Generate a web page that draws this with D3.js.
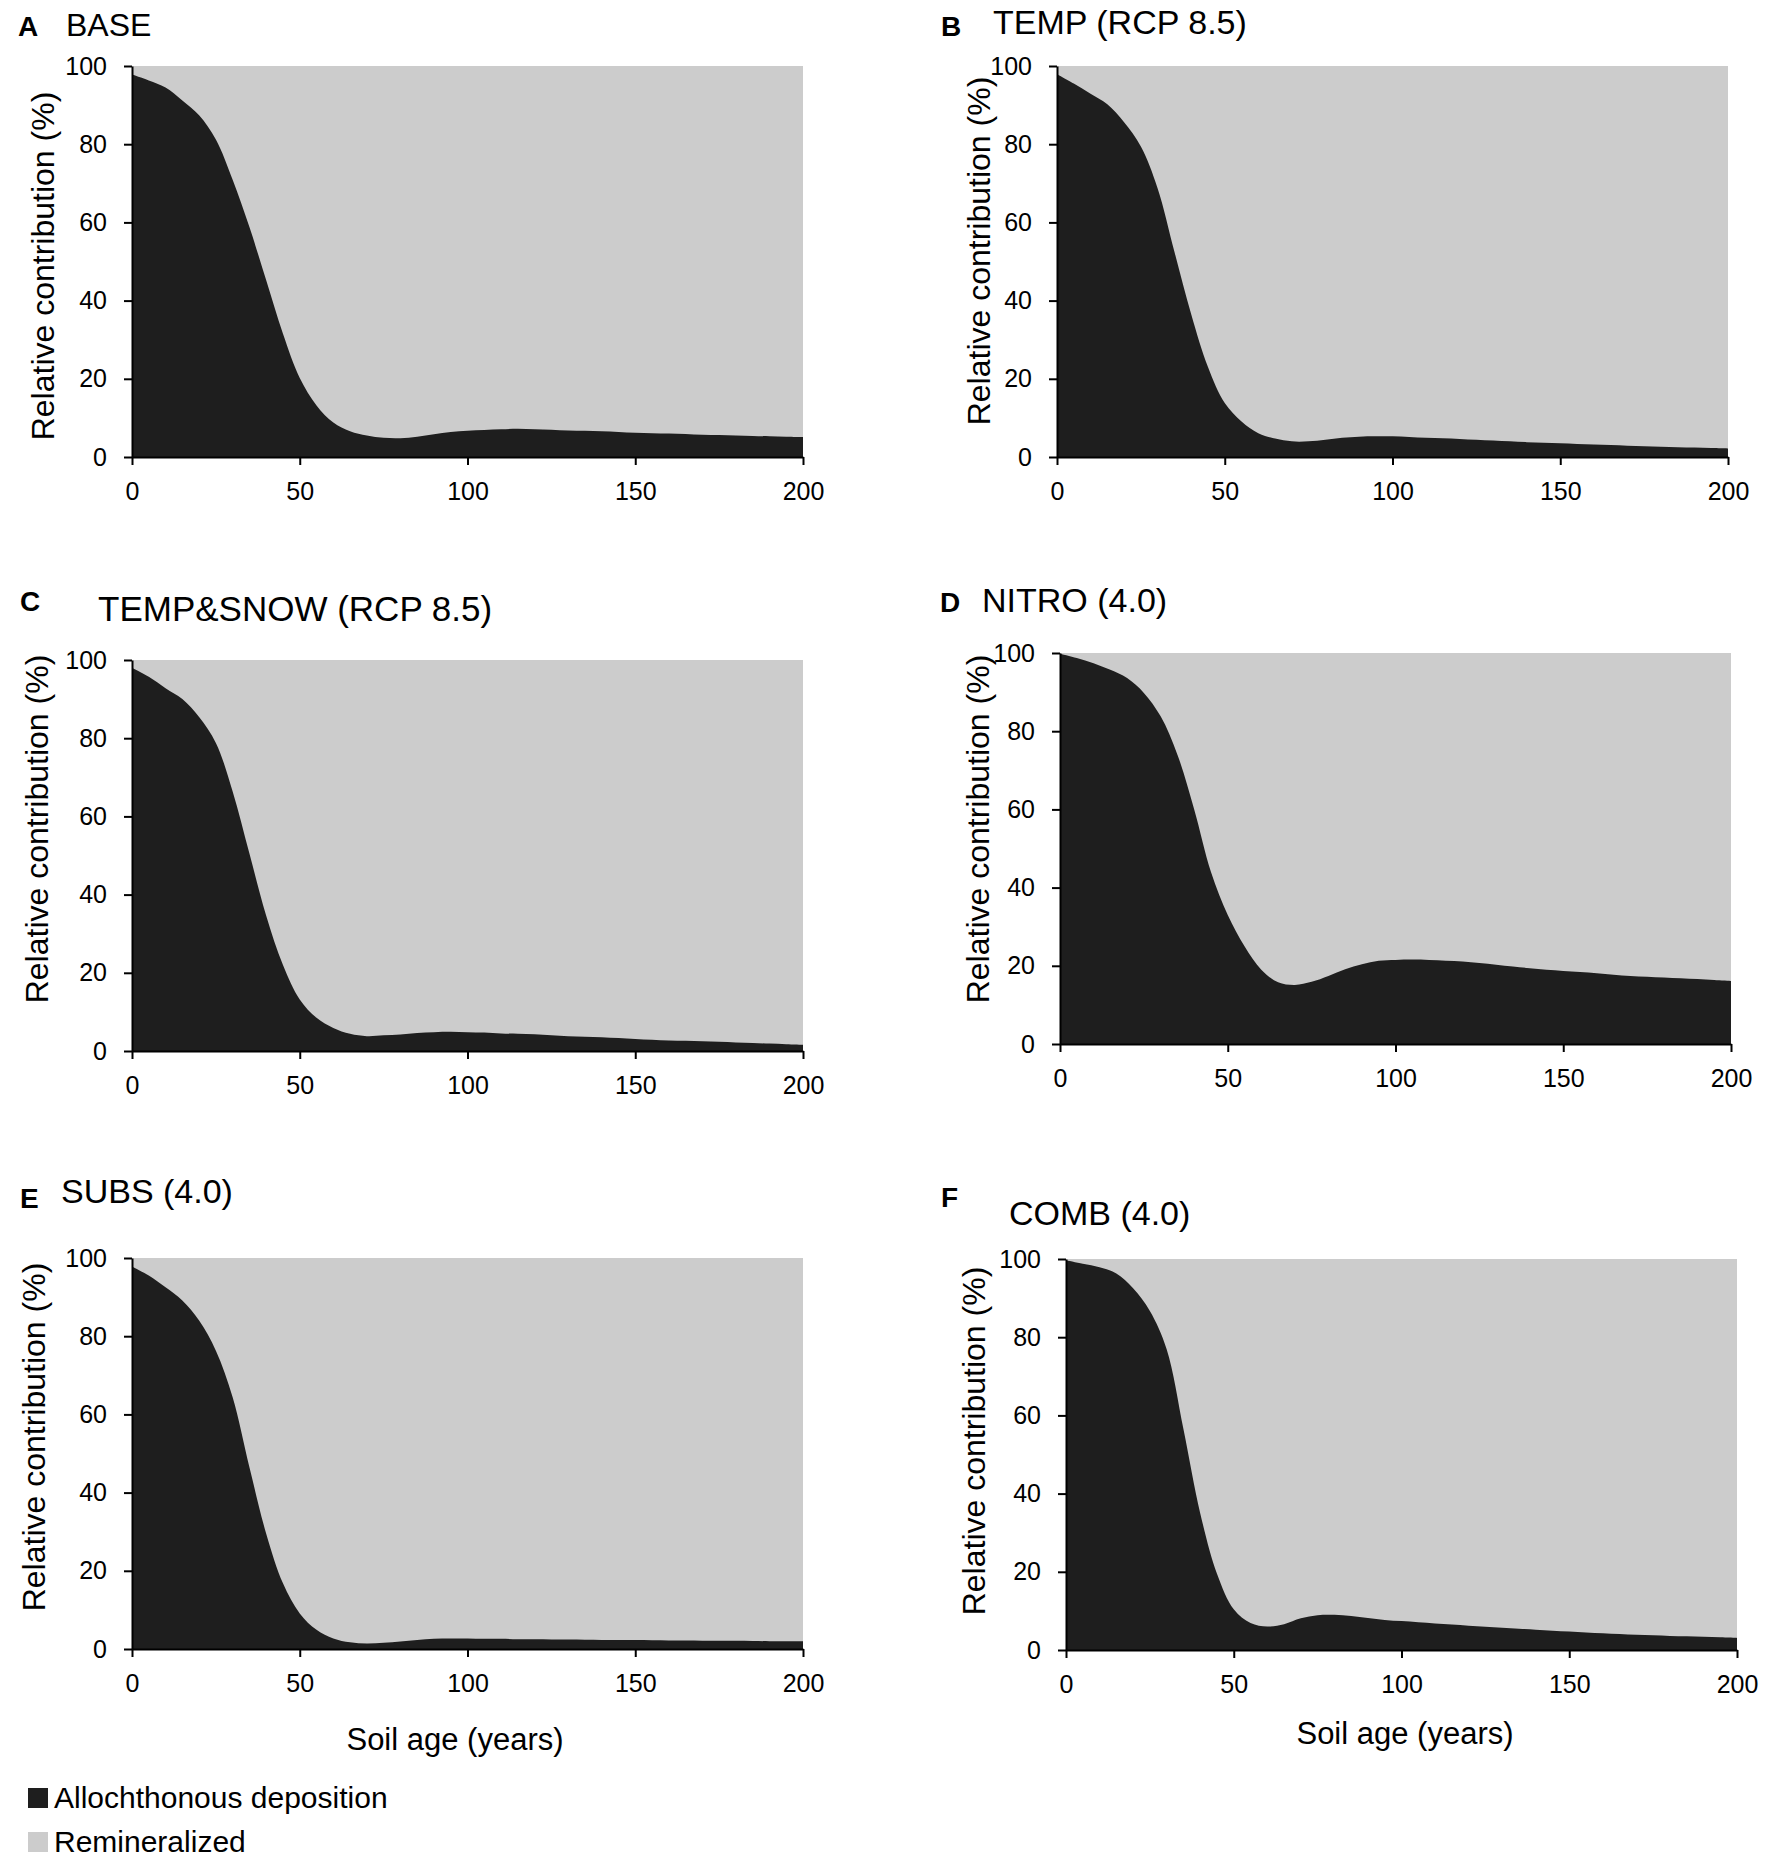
<!DOCTYPE html>
<html>
<head>
<meta charset="utf-8">
<script src="https://cdn.jsdelivr.net/npm/d3@7"></script>
<style>
  body { margin: 0; background: #fff; }
  svg { display: block; font-family: 'Liberation Sans', Arial, sans-serif; }
</style>
</head>
<body>
<svg id="chart"></svg>
<script>
// soil age (years), one reading every 5 years
const ages = d3.range(0, 201, 5)
const xTicks = [0, 50, 100, 150, 200]
const yTicks = [0, 20, 40, 60, 80, 100]

const panelLetters = ['A', 'B', 'C', 'D', 'E', 'F']
const panelTitles = ['BASE', 'TEMP (RCP 8.5)', 'TEMP&SNOW (RCP 8.5)', 'NITRO (4.0)', 'SUBS (4.0)', 'COMB (4.0)']

// allochthonous deposition share (%), the rest is remineralized
const base = [97.8, 96.3, 94.5, 91.2, 87.4, 81.2, 70.9, 58.8, 45.2, 31.5, 20.2, 13.2, 8.8, 6.6, 5.5, 4.9, 4.8, 5.2, 5.8, 6.4, 6.7,
  6.9, 7.1, 7.2, 7.1, 7.0, 6.8, 6.7, 6.6, 6.4, 6.2, 6.1, 6.0, 5.9, 5.7, 5.6, 5.5, 5.4, 5.3, 5.2, 5.1]
const temp = [97.9, 95.5, 92.9, 90.2, 85.6, 79.4, 68.7, 52.5, 36.5, 23.0, 13.8, 9.1, 6.1, 4.7, 4.0, 4.0, 4.4, 4.9, 5.2, 5.3, 5.3,
  5.1, 4.9, 4.8, 4.6, 4.4, 4.2, 4.0, 3.8, 3.65, 3.5, 3.35, 3.2, 3.05, 2.9, 2.75, 2.6, 2.5, 2.4, 2.3, 2.2]
const tempSnow = [98.0, 95.7, 92.8, 90.0, 85.4, 78.8, 66.4, 50.5, 34.6, 22.0, 13.2, 8.5, 5.9, 4.4, 3.8, 4.0, 4.2, 4.6, 4.8, 4.9, 4.8,
  4.7, 4.5, 4.4, 4.3, 4.05, 3.8, 3.65, 3.5, 3.3, 3.1, 2.9, 2.7, 2.6, 2.5, 2.35, 2.2, 2.05, 1.9, 1.75, 1.6]
const nitro = [99.8, 98.7, 97.4, 95.7, 93.6, 89.8, 83.8, 74.0, 60.0, 44.0, 33.0, 25.0, 19.0, 15.8, 15.1, 15.9, 17.4, 19.1, 20.4, 21.3, 21.5,
  21.6, 21.5, 21.3, 21.1, 20.7, 20.3, 19.8, 19.4, 19.0, 18.7, 18.4, 18.1, 17.7, 17.4, 17.2, 17.0, 16.8, 16.6, 16.35, 16.1]
const subs = [97.8, 95.5, 92.5, 89.1, 84.0, 76.3, 64.4, 46.5, 29.5, 16.8, 9.1, 4.9, 2.7, 1.7, 1.4, 1.6, 1.9, 2.3, 2.6, 2.7, 2.7,
  2.6, 2.6, 2.5, 2.5, 2.45, 2.4, 2.35, 2.3, 2.3, 2.3, 2.25, 2.2, 2.15, 2.1, 2.1, 2.1, 2.05, 2.0, 2.0, 2.0]
const comb = [99.7, 98.8, 97.9, 96.3, 92.5, 86.7, 76.9, 56.5, 35.0, 19.5, 10.4, 6.9, 6.0, 6.6, 8.1, 8.9, 9.0, 8.7, 8.2, 7.7, 7.4,
  7.1, 6.8, 6.5, 6.2, 5.95, 5.7, 5.45, 5.2, 4.95, 4.7, 4.5, 4.3, 4.1, 3.9, 3.75, 3.6, 3.5, 3.4, 3.25, 3.1]

const series = [base, temp, tempSnow, nitro, subs, comb]
const legendLabels = ['Allochthonous deposition', 'Remineralized']

const black = '#1e1e1e'
const grey = '#cccccc'

// where each panel sits on the page
const layout = [
  { left: 132, top: 66, letter: [18, 36], title: [66, 36], titleSize: 32, ylab: [54, 266] },
  { left: 1057, top: 66, letter: [941, 36], title: [993, 34], titleSize: 34, ylab: [990, 251] },
  { left: 132, top: 660, letter: [20, 611], title: [98, 621], titleSize: 35, ylab: [48, 829] },
  { left: 1060, top: 653, letter: [940, 612], title: [982, 612], titleSize: 34, ylab: [989, 829] },
  { left: 132, top: 1258, letter: [20, 1208], title: [61, 1203], titleSize: 34, ylab: [45, 1437], xlab: [455, 1750] },
  { left: 1066, top: 1259, letter: [941, 1207], title: [1009, 1225], titleSize: 34, ylab: [985, 1441], xlab: [1405, 1744] }
]

const width = 671
const height = 391

const svg = d3.select('#chart')
  .attr('width', 1772)
  .attr('height', 1861)

const x = d3.scaleLinear().domain([0, 200]).range([0, width])
const y = d3.scaleLinear().domain([0, 100]).range([height, 0])

const area = d3.area()
  .x((d, i) => x(ages[i]))
  .y0(y(0))
  .y1((d) => y(d))
  .curve(d3.curveCatmullRom.alpha(0.5))

series.forEach((values, p) => {
  const L = layout[p]
  const g = svg.append('g')
    .attr('transform', `translate(${L.left}, ${L.top})`)

  // remineralized fills the whole box, deposition is drawn on top
  g.append('rect')
    .attr('x', x(0))
    .attr('y', y(100))
    .attr('width', x(200) - x(0))
    .attr('height', y(0) - y(100))
    .style('fill', grey)

  g.append('path')
    .datum(values)
    .attr('d', area)
    .style('fill', black)

  const yAxis = g.append('g')
    .call(d3.axisLeft(y).tickValues(yTicks).tickSize(8).tickSizeOuter(0).tickPadding(17))
  const xAxis = g.append('g')
    .attr('transform', `translate(0, ${height})`)
    .call(d3.axisBottom(x).tickValues(xTicks).tickSize(8).tickSizeOuter(0).tickPadding(17))

  ;[yAxis, xAxis].forEach((a) => {
    a.selectAll('path, line').style('stroke', '#000').style('stroke-width', 2)
    a.selectAll('text')
      .style('font-size', '25px')
      .style('fill', '#000')
      .style('font-family', "'Liberation Sans', Arial, sans-serif")
  })

  svg.append('text')
    .attr('x', L.letter[0])
    .attr('y', L.letter[1])
    .style('font-size', '28px')
    .style('font-weight', 'bold')
    .text(panelLetters[p])

  svg.append('text')
    .attr('x', L.title[0])
    .attr('y', L.title[1])
    .style('font-size', L.titleSize + 'px')
    .text(panelTitles[p])

  svg.append('text')
    .attr('transform', `translate(${L.ylab[0]}, ${L.ylab[1]}) rotate(-90)`)
    .attr('text-anchor', 'middle')
    .style('font-size', '32px')
    .text('Relative contribution (%)')

  if (L.xlab) {
    svg.append('text')
      .attr('x', L.xlab[0])
      .attr('y', L.xlab[1])
      .attr('text-anchor', 'middle')
      .style('font-size', '31px')
      .text('Soil age (years)')
  }
})

// legend
const legendColors = [black, grey]
const legend = svg.selectAll('.legend')
  .data(legendLabels)
  .join('g')
  .attr('class', 'legend')
  .attr('transform', (d, i) => `translate(28, ${1788 + i * 44})`)

legend.append('rect')
  .attr('width', 20)
  .attr('height', 20)
  .style('fill', (d, i) => legendColors[i])

legend.append('text')
  .attr('x', 26)
  .attr('y', 20)
  .style('font-size', '30px')
  .text((d) => d)
</script>
</body>
</html>
